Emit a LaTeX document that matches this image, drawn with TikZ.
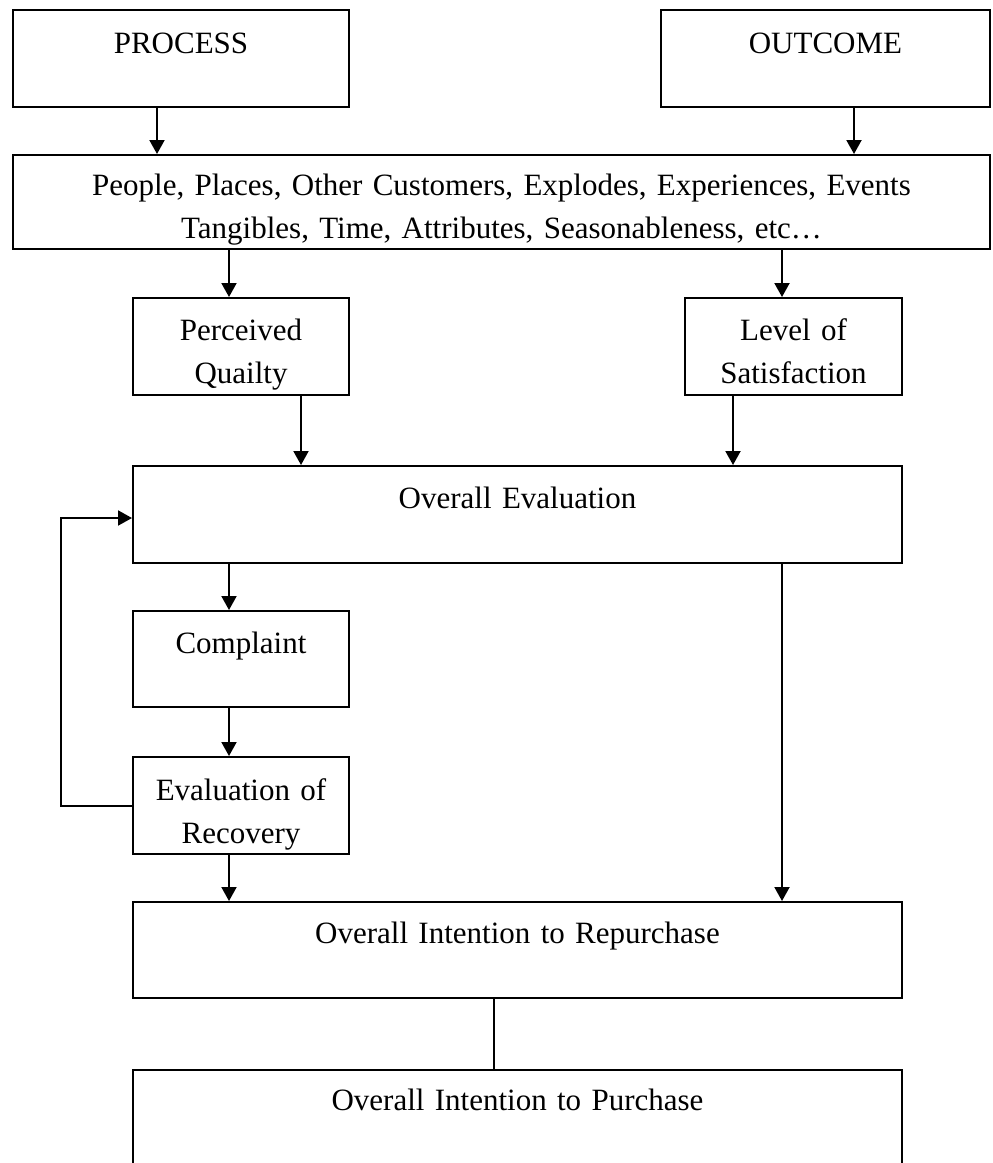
\documentclass[tikz,border=0pt]{standalone}
\usepackage{fontspec}
\setmainfont{Liberation Serif}
\usetikzlibrary{arrows.meta}

\begin{document}
\begin{tikzpicture}[x=0.5pt, y=-0.5pt,
        blk/.style={draw, line width=1pt, inner sep=0pt, align=center,
            font=\fontsize{15.5pt}{21.5pt}\selectfont},
        arr/.style={-{Triangle[length=7pt,width=7.5pt]}, line width=1pt}]
        \useasboundingbox (0,0) rectangle (992,1163);

        \node[blk, text width=168pt, text height=21.5pt, text depth=27pt] at (181, 58.5) (process) {PROCESS};
        \node[blk, text width=164.5pt, text height=21.5pt, text depth=27pt] at (825.5, 58.5) (outcome) {OUTCOME};
        \node[blk, text width=488.5pt, text height=20pt, text depth=27pt] at (501.5, 202) (factors)
            {People, Places, Other Customers, Explodes, Experiences, Events\\Tangibles, Time, Attributes, Seasonableness, etc\ldots};
        \node[blk, text width=108pt, text height=21pt, text depth=27.5pt] at (241, 346.5) (quality) {Perceived\\Quailty};
        \node[blk, text width=108.5pt, text height=21pt, text depth=27.5pt] at (793.5, 346.5) (satisf) {Level of\\Satisfaction};
        \node[blk, text width=384.5pt, text height=21pt, text depth=27.5pt] at (517.5, 514.5) (evaluation) {Overall Evaluation};
        \node[blk, text width=108pt, text height=21pt, text depth=27pt] at (241, 659) (complaint) {Complaint};
        \node[blk, text width=108pt, text height=21.5pt, text depth=27pt] at (241, 805.5) (recovery) {Evaluation of\\Recovery};
        \node[blk, text width=384.5pt, text height=20.5pt, text depth=27.5pt] at (517.5, 950) (repurchase) {Overall Intention to Repurchase};
        \node[blk, text width=384.5pt, text height=20pt, text depth=32.5pt] at (517.5, 1122.5) (purchase) {Overall Intention to Purchase};

        \draw [arr] (process.south -| 157,0) -- (factors.north -| 157,0);
        \draw [arr] (outcome.south -| 854,0) -- (factors.north -| 854,0);
        \draw [arr] (factors.south -| 229,0) -- (quality.north -| 229,0);
        \draw [arr] (factors.south -| 782,0) -- (satisf.north -| 782,0);
        \draw [arr] (quality.south -| 301,0) -- (evaluation.north -| 301,0);
        \draw [arr] (satisf.south -| 733,0) -- (evaluation.north -| 733,0);
        \draw [arr] (evaluation.south -| 229,0) -- (complaint.north -| 229,0);
        \draw [arr] (complaint.south -| 229,0) -- (recovery.north -| 229,0);
        \draw [arr] (recovery.south -| 229,0) -- (repurchase.north -| 229,0);
        \draw [arr] (evaluation.south -| 782,0) -- (repurchase.north -| 782,0);
        \draw [line width=0.6pt] (repurchase.south -| 494,0) -- (purchase.north -| 494,0);

        % feedback from recovery back to evaluation
        \draw [arr] (recovery.west) -- (61,805.5) |- (evaluation.west |- 0,518);
    \end{tikzpicture}
\end{document}
